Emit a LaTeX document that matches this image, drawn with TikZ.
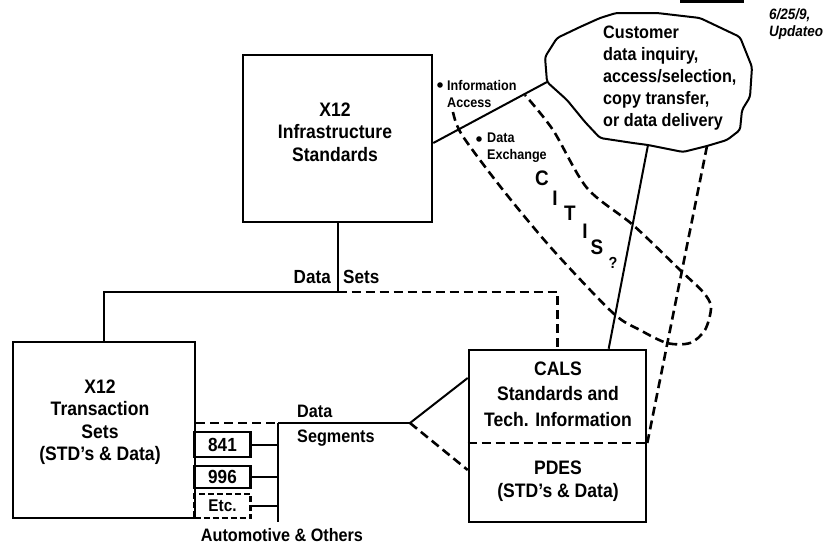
\documentclass[tikz,border=0pt]{standalone}
\usepackage{fontspec}
\setmainfont[FakeStretch=0.9]{Liberation Sans}
\usetikzlibrary{calc}
\begin{document}
\begin{tikzpicture}[x=1pt,y=-1pt,
  boxst/.style={draw, line width=2.6pt, inner sep=0pt},
  conn/.style={line width=2pt},
  dline/.style={line width=2.6pt, dash pattern=on 9pt off 5pt},
  boxtxt/.style={font=\fontsize{19.5}{22.5}\selectfont\bfseries, align=center, inner sep=0pt},
  lbl/.style={font=\fontsize{18}{25}\selectfont\bfseries, inner sep=0pt},
  smalltxt/.style={font=\fontsize{14}{17.5}\selectfont\bfseries, align=left, inner sep=0pt, anchor=west},
  cloudtxt/.style={font=\fontsize{18}{22}\selectfont\bfseries, align=left, inner sep=0pt, anchor=west},
  citis/.style={font=\fontsize{21}{22}\selectfont\bfseries, inner sep=0pt},
  numbox/.style={draw, line width=2.2pt, inner sep=0pt, minimum width=56pt, font=\fontsize{19}{20}\selectfont\bfseries},
  datetxt/.style={anchor=west, inner sep=0pt, font=\fontsize{15}{17}\selectfont\bfseries\itshape}
]
\useasboundingbox (0,0) rectangle (829,546);

% top-right remnants
\draw[line width=3pt] (680,1.5) coordinate (topA) -- (744,1.5) coordinate (topB);
\node[datetxt] (date) at (769,15) {6/25/9,};
\node[datetxt] (upd) at (769,33) {Updateo};

% main boxes
\node[boxst, minimum width=189pt, minimum height=167pt] (infra) at (337.5,138.5) {};
\node[boxtxt] (infraT) at (335,132) {X12\\Infrastructure\\Standards};

\node[boxst, minimum width=182pt, minimum height=176pt] (trans) at (104,430) {};
\node[boxtxt] (transT) at (100,422) {X12\\Transaction\\Sets\\(STD's \& Data)};

\node[boxst, minimum width=177pt, minimum height=172pt] (cals) at (557.5,436) {};
\coordinate (divL) at (cals.west |- 0,443);
\coordinate (divR) at (cals.east |- 0,443);
\draw[dline] (divL) -- (divR);
\node[boxtxt, font=\fontsize{19.5}{25.5}\selectfont\bfseries] (calsT) at (558,394) {CALS\\Standards and\\Tech. Information};
\node[boxtxt, font=\fontsize{19.5}{23}\selectfont\bfseries] (pdesT) at (558,481) {PDES\\(STD's \& Data)};

% small boxes
\node[numbox, minimum height=25pt] (b841) at (222.5,444.5) {841};
\node[numbox, minimum height=22pt] (b996) at (222.5,477) {996};
\node[numbox, minimum height=24pt, dash pattern=on 6pt off 3pt, font=\fontsize{17}{18}\selectfont\bfseries] (betc) at (222.5,506) {Etc.};

% data segments bus
\coordinate (busT) at (278,423);
\coordinate (busB) at (278,522);
\coordinate (segj) at (410,423);
\draw[conn] (busT) -- (busB);
\draw[dline] (trans.east |- busT) -- (busT);
\draw[conn] (busT) -- (segj);
\draw[conn] (segj) -- (cals.west |- 0,378);
\draw[dline] (segj) -- (cals.west |- 0,470);
\draw[conn] (b841.east) -- (b841.east -| busT);
\draw[conn] (b996.east) -- (b996.east -| busT);
\draw[conn] (betc.east) -- (betc.east -| busT);
\node[lbl, anchor=west, align=left] (segT) at (297,425.5) {Data\\Segments};
\node[lbl] (autoT) at (282,535) {Automotive \& Others};

% data sets
\coordinate (dsj) at (infra.south |- 0,292);
\draw[conn] (infra.south) -- (dsj);
\draw[conn] (trans.north) |- (dsj);
\draw[dline] (dsj) -| (cals.north);
\node[lbl, font=\fontsize{19}{22}\selectfont\bfseries, anchor=east] (dataT) at (331,277) {Data};
\node[lbl, font=\fontsize{19}{22}\selectfont\bfseries, anchor=west] (setsT) at (343,277) {Sets};

% cloud
\draw[line width=2pt, rounded corners=3pt]
  (547,82) coordinate (cl1) -- (545,57) -- (557,38) -- (580,27) -- (600,18) -- (616,13)
  -- (657,13) -- (700,18) -- (740,37) -- (752,67) -- (750,97) -- (742,110) -- (740,130)
  -- (727,140) -- (707,146) coordinate (cl3) -- (683,152) -- (648,145) coordinate (cl2)
  -- (633,143) -- (600,138) -- (585,122) -- (567,100) -- cycle;
\node[cloudtxt] (cloudT) at (603,78) {Customer\\data inquiry,\\access/selection,\\copy transfer,\\or data delivery};

% connectors to cloud
\draw[conn] (infra.east |- 0,143) -- (cl1);
\draw[conn] (cl2) -- ($(cals.north west)!0.785!(cals.north east)$);
\draw[dline] (cl3) -- (divR);

% CITIS loop
\draw[dline] plot[smooth, tension=0.5] coordinates {(453,112) (462,135) (503,190) (553,250) (613,313) (640,330) (667,343) (690,343) (705,330) (711,307) (703,292) (680,270) (633,225) (587,188) (553,130) (525,95)};

\fill (440,85) coordinate (bulA) circle (2.8pt);
\node[smalltxt] (infoT) at (447,94) {Information\\Access};
\fill (479,139) coordinate (bulB) circle (2.8pt);
\node[smalltxt, font=\fontsize{14}{17}\selectfont\bfseries] (exchT) at (487,147.5) {Data\\Exchange};

\node[citis] (c1) at (542,178) {C};
\node[citis] (c2) at (555,198) {I};
\node[citis] (c3) at (570,213) {T};
\node[citis] (c4) at (585,231) {I};
\node[citis] (c5) at (597,247) {S};
\node[citis, font=\fontsize{16}{18}\selectfont\bfseries] (c6) at (613,263) {?};
\end{tikzpicture}
\end{document}
